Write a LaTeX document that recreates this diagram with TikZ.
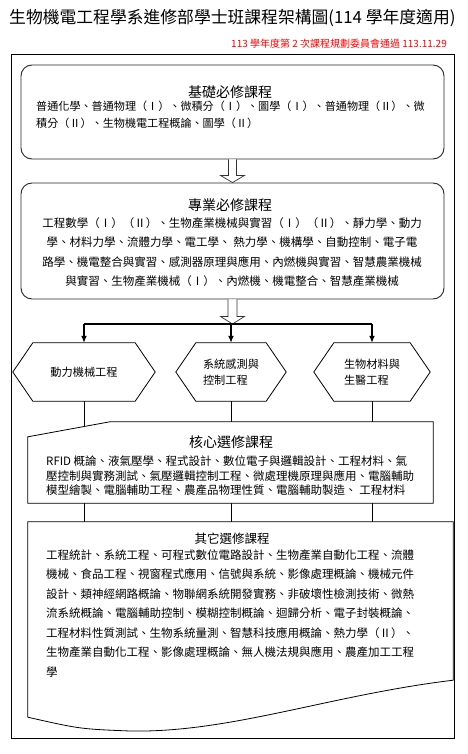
\documentclass[tikz,border=0pt]{standalone}
\usepackage{fontspec}
\setmainfont{Noto Sans CJK TC}
\usetikzlibrary{arrows.meta}

\tikzset{
  box/.style={draw=black!85, line width=0.9pt, rounded corners=11pt, inner sep=0pt},
  frame/.style={inner sep=0pt},
  hexnode/.style={inner sep=0pt, minimum height=58pt, align=left, font=\fontsize{11.2}{16}\selectfont},
  hexline/.style={draw, line width=0.8pt},
  hollow/.style={draw=black!80, line width=0.7pt, fill=white},
  boxtitle/.style={inner sep=0pt, font=\fontsize{14}{17}\selectfont},
  boxbody/.style={inner sep=0pt, anchor=west, align=left},
  branch/.style={line width=1.3pt},
}

\begin{document}
\begin{tikzpicture}[x=1pt, y=-1pt, >={Latex[length=7pt,width=6pt]}]
\useasboundingbox (0,0) rectangle (467,754);

% Titel
\node[anchor=west, inner sep=0pt, font=\fontsize{16.8}{20}\selectfont] (title) at (9,18) {生物機電工程學系進修部學士班課程架構圖(114 學年度適用)};
\node[anchor=east, inner sep=0pt, text=red, font=\fontsize{10}{12}\selectfont] (approved) at (447,44) {113 學年度第 2 次課程規劃委員會通過 113.11.29};

% Rahmen
\draw[line width=0.8pt] (11,54) rectangle (454,738);

% Basis-Pflicht
\node[box, minimum width=423pt, minimum height=94pt] (basic) at (232.5,112) {};
\node[boxtitle] (basictitle) at (230,92) {基礎必修課程};
\node[boxbody, font=\fontsize{11.1}{17}\selectfont] (basicbody) at (36,114.5) {普通化學、普通物理（Ⅰ）、微積分（Ⅰ）、圖學（Ⅰ）、普通物理（Ⅱ）、微\\積分（Ⅱ）、生物機電工程概論、圖學（Ⅱ）};

% Fach-Pflicht
\node[box, minimum width=423pt, minimum height=116pt] (major) at (232.5,241) {};
\node[boxtitle] (majortitle) at (230,205) {專業必修課程};
\node[inner sep=0pt, align=center, font=\fontsize{11.5}{19.5}\selectfont] (majorbody) at (232,252) {工程數學（Ⅰ）（Ⅱ）、生物產業機械與實習（Ⅰ）（Ⅱ）、靜力學、動力\\學、材料力學、流體力學、電工學、 熱力學、機構學、自動控制、電子電\\路學、機電整合與實習、感測器原理與應用、內燃機與實習、智慧農業機械\\與實習、生物產業機械（Ⅰ）、內燃機、機電整合、智慧產業機械};

% Hohlpfeil 1
\draw[hollow] ([xshift=-4pt]basic.south) -- ([xshift=-4pt,yshift=-16pt]basic.south) -- ([xshift=-12pt,yshift=-16pt]basic.south) -- (major.north) -- ([xshift=12pt,yshift=-16pt]basic.south) -- ([xshift=4pt,yshift=-16pt]basic.south) -- ([xshift=4pt]basic.south);

% Richtungen
\node[hexnode, minimum width=142pt] (power) at (84,372) {動力機械工程};
\node[hexnode, minimum width=110pt] (sensing) at (231,372) {系統感測與\\控制工程};
\node[hexnode, minimum width=116pt] (biomat) at (372,372) {生物材料與\\生醫工程};
\coordinate (split) at (232.5,324);

% Hohlpfeil 2
\draw[hollow] ([xshift=-4.5pt]major.south) -- ([xshift=-4.5pt,yshift=-17pt]major.south) -- ([xshift=-12pt,yshift=-17pt]major.south) -- (split) -- ([xshift=12pt,yshift=-17pt]major.south) -- ([xshift=4.5pt,yshift=-17pt]major.south) -- ([xshift=4.5pt]major.south);

% Verzweigung
\draw[branch] (power.north |- split) -- (biomat.north |- split);

% Sonstige Wahl (Rahmen zuerst, Linien laufen dahinter)
\node[frame, minimum width=425pt, minimum height=195pt] (other) at (240.5,619.5) {};

\foreach \h in {power,sensing,biomat}{
  \draw[branch,->] (\h.north |- split) -- (\h.north);
  \draw[line width=1pt] (\h.south) -- (\h.south |- other.north);
  \draw[hexline] (\h.west) -- ([xshift=20pt]\h.north west) -- ([xshift=-20pt]\h.north east) -- (\h.east) -- ([xshift=-20pt]\h.south east) -- ([xshift=20pt]\h.south west) -- cycle;
}

% Kern-Wahl
\node[frame, minimum width=405pt, minimum height=81pt] (core) at (230.5,462.5) {};
\draw[fill=white, line width=0.8pt] ([yshift=-15pt]core.north west) -- ([xshift=82pt]core.north west) -- (core.north east) -- (core.south east) -- (core.south west) -- cycle;
\node[boxtitle] (coretitle) at (231,442) {核心選修課程};
\node[boxbody, font=\fontsize{11.5}{14.5}\selectfont] (corebody) at (46,476) {RFID 概論、液氣壓學、程式設計、數位電子與邏輯設計、工程材料、氣\\壓控制與實務測試、氣壓邏輯控制工程、微處理機原理與應用、電腦輔助\\模型繪製、電腦輔助工程、農產品物理性質、電腦輔助製造、 工程材料};

% Sonstige Wahl
\draw[fill=white, line width=0.8pt] (other.south west) -- (other.north west) -- (other.north east) -- ([yshift=37pt]other.south east) .. controls (330,695) and (230,733) .. (130,731) .. controls (80,729) .. (other.south west);
\node[inner sep=0pt, font=\fontsize{12.5}{15}\selectfont] (othertitle) at (232,539) {其它選修課程};
\node[boxbody, font=\fontsize{11.5}{19.5}\selectfont] (otherbody) at (46,613.5) {工程統計、系統工程、可程式數位電路設計、生物產業自動化工程、流體\\機械、食品工程、視窗程式應用、信號與系統、影像處理概論、機械元件\\設計、類神經網路概論、物聯網系統開發實務、非破壞性檢測技術、微熱\\流系統概論、電腦輔助控制、模糊控制概論、迴歸分析、電子封裝概論、\\工程材料性質測試、生物系統量測、智慧科技應用概論、熱力學（Ⅱ）、\\生物產業自動化工程、影像處理概論、無人機法規與應用、農產加工工程\\學};

\end{tikzpicture}
\end{document}
